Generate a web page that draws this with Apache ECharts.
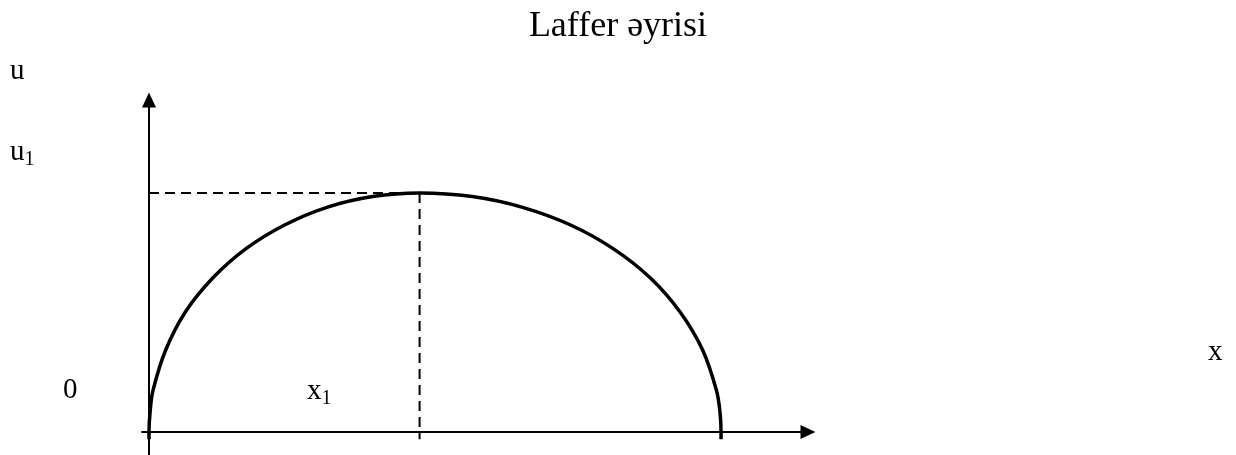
<!DOCTYPE html>
<html>
<head>
<meta charset="utf-8">
<script src="https://cdn.jsdelivr.net/npm/echarts@6/dist/echarts.min.js"></script>
<style>
  html, body { margin: 0; padding: 0; background: #fff; }
  #chart { width: 1236px; height: 455px; }
</style>
</head>
<body>
<div id="chart"></div>
<script>
// curve points (x = tax rate, u = revenue), peak at x1
const curveX = [0, 0, 0.02, 0.07, 0.29, 0.63, 1.11, 1.69, 2.37, 3.11, 3.91, 4.73, 5.65, 6.53, 7.37, 8.12, 8.77, 9.29, 9.68, 9.92, 9.98, 10, 10];
const curveU = [-0.3, 0, 0.87, 1.74, 3.42, 5.0, 6.43, 7.66, 8.66, 9.40, 9.85, 10, 9.85, 9.40, 8.66, 7.66, 6.43, 5.0, 3.42, 1.74, 0.87, 0, -0.3];
// dashed guides to the peak
const peakX = 4.73;
const peakU = 10;
const guideBottom = -0.3;

const titleText = 'Laffer əyrisi';
const axisLabels = { u: 'u', u1: 'u', x: 'x', x1: 'x', zero: '0' };

const serif = '"Liberation Serif", "Times New Roman", serif';

const chart = echarts.init(document.getElementById('chart'));

const pairs = (xs, ys) => xs.map((x, i) => [x, ys[i]]);

const subLabel = (main) => ({
  text: '{m|' + main + '}{s|1}',
  fill: '#000', verticalAlign: 'middle',
  rich: {
    m: { font: '29px ' + serif, fill: '#000', verticalAlign: 'bottom' },
    s: { font: '20px ' + serif, fill: '#000', verticalAlign: 'bottom', padding: [0, 0, -3, 0] },
  },
});

const option = {
  animation: false,
  grid: { left: 142, right: 428, top: 100, bottom: 0 },
  xAxis: {
    type: 'value',
    min: -0.1224,
    max: 11.52,
    axisLine: {
      onZero: true,
      symbol: ['none', 'triangle'],
      symbolSize: [14, 15],
      lineStyle: { color: '#000', width: 2 },
    },
    axisTick: { show: false },
    axisLabel: { show: false },
    splitLine: { show: false },
  },
  yAxis: {
    type: 'value',
    min: -0.962,
    max: 13.89,
    axisLine: {
      show: true,
      onZero: true,
      symbol: ['none', 'triangle'],
      symbolSize: [14, 15],
      lineStyle: { color: '#000', width: 2 },
    },
    axisTick: { show: false },
    axisLabel: { show: false },
    splitLine: { show: false },
  },
  series: [
    {
      type: 'line',
      data: [[0, peakU], [peakX, peakU]],
      symbol: 'none',
      lineStyle: { color: '#000', width: 2, type: [10, 6] },
    },
    {
      type: 'line',
      data: [[peakX, peakU], [peakX, guideBottom]],
      symbol: 'none',
      lineStyle: { color: '#000', width: 2, type: [10, 6] },
    },
    {
      type: 'line',
      data: pairs(curveX, curveU),
      symbol: 'none',
      smooth: 0.35,
      lineStyle: { color: '#000', width: 3.5 },
    },
  ],
  graphic: [
    {
      type: 'text', left: 'center', top: 9,
      style: { text: titleText, font: '36px ' + serif, fill: '#000' },
    },
    {
      type: 'text', x: 10, y: 71,
      style: { text: axisLabels.u, font: '29px ' + serif, fill: '#000', verticalAlign: 'middle' },
    },
    { type: 'text', x: 10, y: 152, style: subLabel(axisLabels.u1) },
    {
      type: 'text', x: 63, y: 390,
      style: { text: axisLabels.zero, font: '29px ' + serif, fill: '#000', verticalAlign: 'middle' },
    },
    { type: 'text', x: 307, y: 391, style: subLabel(axisLabels.x1) },
    {
      type: 'text', x: 1208, y: 352,
      style: { text: axisLabels.x, font: '29px ' + serif, fill: '#000', verticalAlign: 'middle' },
    },
  ],
};

chart.setOption(option);
</script>
</body>
</html>
